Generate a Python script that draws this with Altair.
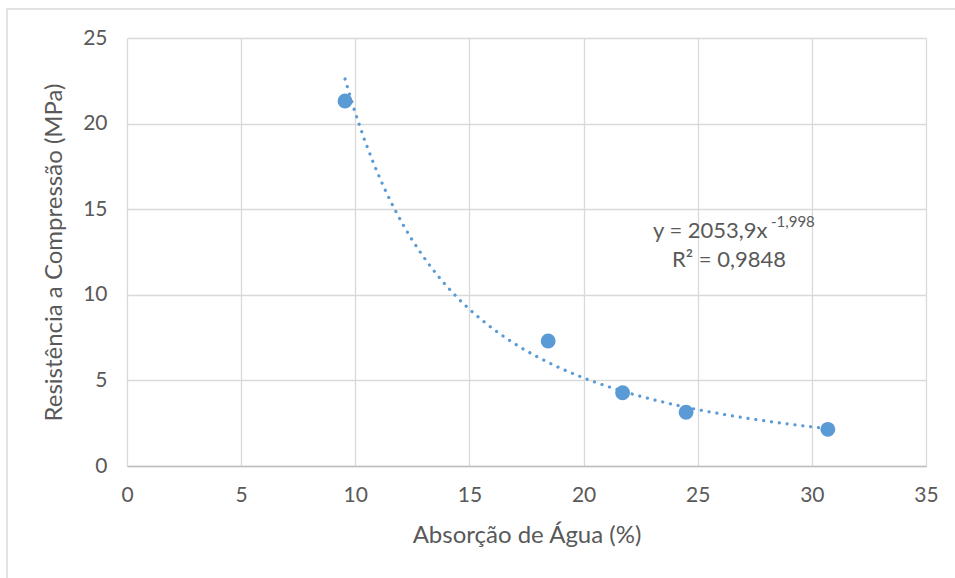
import altair as alt
import pandas as pd

absorcao = [9.55, 18.45, 21.71, 24.49, 30.70]
resistencia = [21.32, 7.30, 4.28, 3.14, 2.14]

eq_main = "y = 2053,9x"
eq_exp = "-1,998"
eq_r2 = "R² = 0,9848"

df = pd.DataFrame({"x": absorcao, "y": resistencia})
one = pd.DataFrame({"k": [0]})

FONT = "Lato"
TXT = "#595959"
BLUE = "#5B9BD5"

base = alt.Chart(df)

xenc = alt.X("x:Q", scale=alt.Scale(domain=[0, 35], nice=False),
             axis=alt.Axis(title="Absorção de Água (%)", values=[0, 5, 10, 15, 20, 25, 30, 35],
                           grid=True, gridColor="#d9d9d9", gridWidth=1.3,
                           domain=True, domainColor="#bfbfbf", domainWidth=1.5,
                           ticks=False, labelPadding=18, labelFontSize=21, labelFont=FONT,
                           labelFlush=False,
                           labelColor=TXT, titleFont=FONT, titleFontSize=24, titleColor=TXT,
                           titleFontWeight="normal", titlePadding=18))
yenc = alt.Y("y:Q", scale=alt.Scale(domain=[0, 25], nice=False),
             axis=alt.Axis(title="Resistência a Compressão (MPa)", values=[0, 5, 10, 15, 20, 25],
                           grid=True, gridColor="#d9d9d9", gridWidth=1.3,
                           domain=False, ticks=False, labelPadding=20, labelFontSize=21,
                           labelFlush=False,
                           labelFont=FONT, labelColor=TXT, titleFont=FONT, titleFontSize=24,
                           titleColor=TXT, titleFontWeight="normal", titlePadding=16))

frame = alt.Chart(one).mark_rect(fill=None, stroke="#d9d9d9", strokeWidth=1.5).encode(
    x=alt.value(-120), x2=alt.value(1000), y=alt.value(-29), y2=alt.value(700)
)

trend = base.transform_regression("x", "y", method="pow").mark_line(
    color=BLUE, strokeWidth=3.2, strokeDash=[0.1, 7.8], strokeCap="round"
).encode(x=xenc, y=yenc)

pts = base.mark_circle(size=220, color=BLUE, opacity=1).encode(x=xenc, y=yenc)

t1 = alt.Chart(one).mark_text(text=eq_main, font=FONT, fontSize=22, fontWeight="normal", color=TXT,
                              align="left", baseline="alphabetic").encode(x=alt.value(526), y=alt.value(200))
t2 = alt.Chart(one).mark_text(text=eq_exp, font=FONT, fontSize=15, fontWeight="normal", color=TXT,
                              align="left", baseline="alphabetic").encode(x=alt.value(644), y=alt.value(189))
t3 = alt.Chart(one).mark_text(text=eq_r2, font=FONT, fontSize=22, fontWeight="normal", color=TXT,
                              align="left", baseline="alphabetic").encode(x=alt.value(545), y=alt.value(229))

chart = alt.layer(frame, trend, pts, t1, t2, t3).properties(
    width=799, height=428,
    autosize=alt.AutoSizeParams(type="none"),
    padding={"left": 127, "top": 38, "right": 29, "bottom": 112},
    background="white",
).configure_view(stroke=None)

chart.save("out.html", embed_options={"renderer": "svg", "actions": False})
